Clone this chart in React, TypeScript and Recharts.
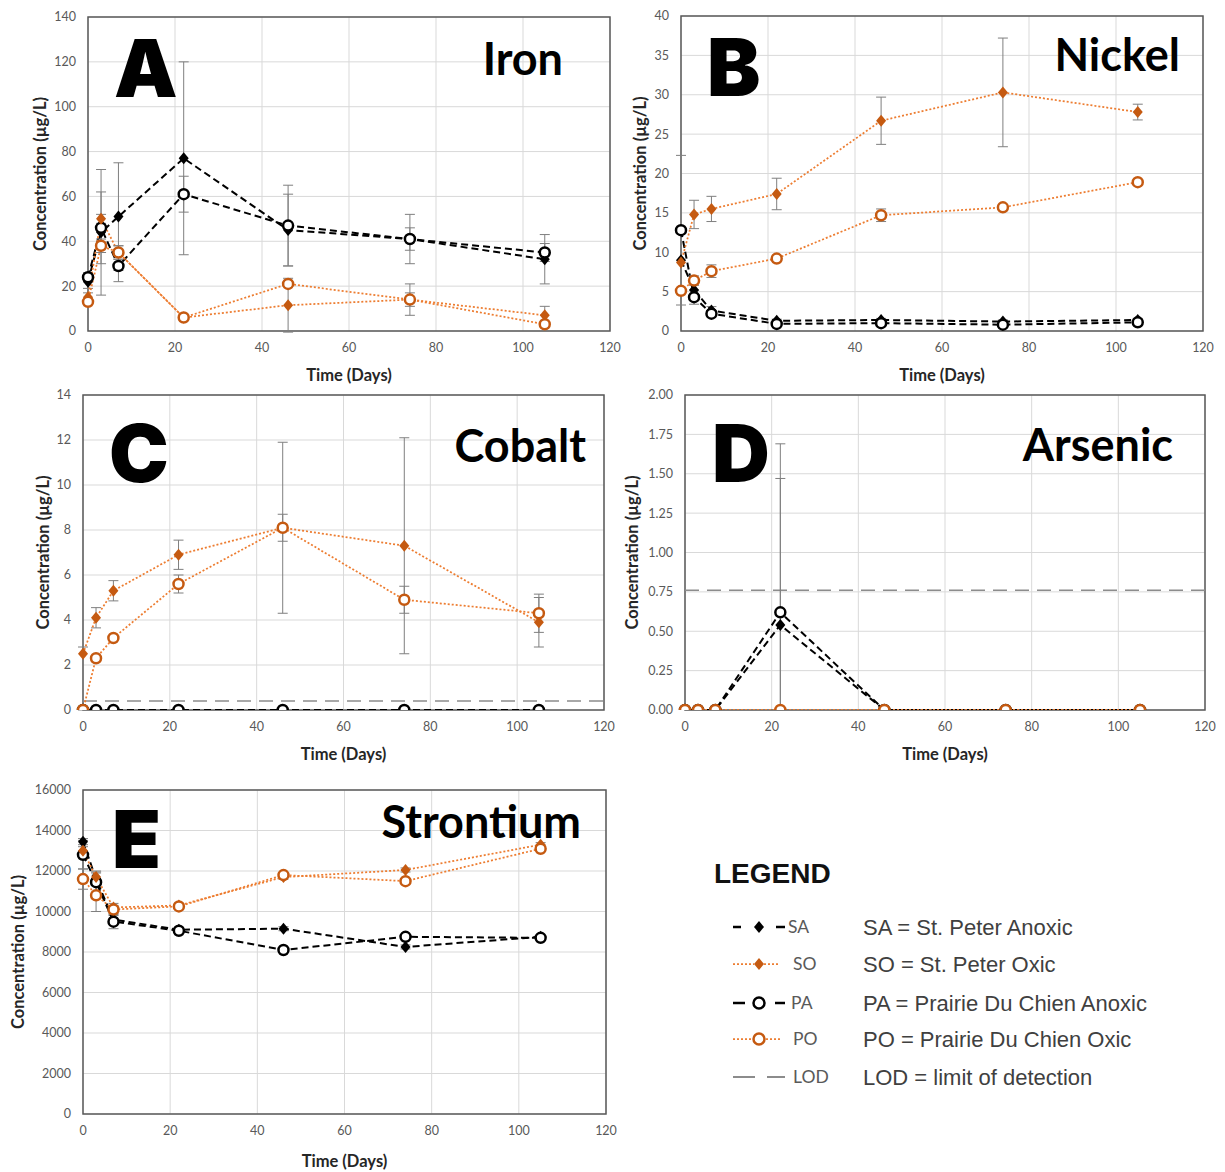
import React from "react";
import {
  LineChart,
  Line,
  XAxis,
  YAxis,
  CartesianGrid,
  ErrorBar,
  ReferenceLine,
  ReferenceArea,
} from "recharts";

// sampling days shared by every panel
const days = [0, 3, 7, 22, 46, 74, 105];
const dayTicks = [0, 20, 40, 60, 80, 100, 120];

type Err = number | [number, number] | null;

// Iron
const ironSA = [22, 44, 51, 77, 45, 41, 32];
const ironSO = [15, 50, 35, 6, 11.5, 14, 7];
const ironPA = [24, 46, 29, 61, 47, 41, 35];
const ironPO = [13, 38, 35, 6, 21, 14, 3];
const ironSAErr: Err[] = [3, 28, 24, 43, 16, 5, 11];
const ironSOErr: Err[] = [2, 2, 3, 1, 12, 7, 4];
const ironPAErr: Err[] = [2, 16, 7, 8, 18, 11, 4];
const ironPOErr: Err[] = [1, 3, 3, 1, 1, 3, 1];
const ironTicks = [0, 20, 40, 60, 80, 100, 120, 140];

// Nickel
const niSA = [9.0, 5.2, 2.6, 1.3, 1.4, 1.2, 1.4];
const niSO = [8.7, 14.8, 15.5, 17.4, 26.7, 30.3, 27.8];
const niPA = [12.8, 4.3, 2.2, 0.9, 1.0, 0.8, 1.1];
const niPO = [5.1, 6.4, 7.6, 9.2, 14.7, 15.7, 18.9];
const niSAErr: Err[] = [null, 0.8, 0.5, 0.2, 0.2, 0.2, 0.2];
const niSOErr: Err[] = [null, 1.8, 1.6, 2.0, 3.0, 6.9, 1.0];
const niPAErr: Err[] = [9.5, 0.9, 0.4, 0.1, 0.2, 0.1, 0.1];
const niPOErr: Err[] = [0.3, 0.6, 0.8, 0.3, 0.8, 0.3, 0.3];
const niTicks = [0, 5, 10, 15, 20, 25, 30, 35, 40];

// Cobalt
const coSA = [0, 0, 0, 0, 0, 0, 0];
const coSO = [2.5, 4.1, 5.3, 6.9, 8.1, 7.3, 3.9];
const coPA = [0, 0, 0, 0, 0, 0, 0];
const coPO = [0, 2.3, 3.2, 5.6, 8.1, 4.9, 4.3];
const coSAErr: Err[] = [null, null, null, null, null, null, null];
const coSOErr: Err[] = [[2.5, 0.3], 0.45, 0.45, 0.65, 0.6, 4.8, 1.1];
const coPAErr: Err[] = [null, null, null, null, null, null, null];
const coPOErr: Err[] = [null, 0.1, 0.1, 0.4, 3.8, 0.6, 0.85];
const coTicks = [0, 2, 4, 6, 8, 10, 12, 14];
const coLOD = 0.4;

// Arsenic
const asSA = [0, 0, 0, 0.54, 0, 0, 0];
const asSO = [0, 0, 0, 0, 0, 0, 0];
const asPA = [0, 0, 0, 0.62, 0, 0, 0];
const asPO = [0, 0, 0, 0, 0, 0, 0];
const asSAErr: Err[] = [null, null, null, [0.54, 0.93], null, null, null];
const asSOErr: Err[] = [null, null, null, null, null, null, null];
const asPAErr: Err[] = [null, null, null, [0.62, 1.07], null, null, null];
const asPOErr: Err[] = [null, null, null, null, null, null, null];
const asTicks = [0, 0.25, 0.5, 0.75, 1.0, 1.25, 1.5, 1.75, 2.0];
const asLOD = 0.76;

// Strontium
const srSA = [13450, 11600, 9600, 9100, 9150, 8250, 8750];
const srSO = [13000, 11700, 10200, 10300, 11700, 12050, 13300];
const srPA = [12800, 11450, 9500, 9050, 8100, 8750, 8700];
const srPO = [11600, 10800, 10100, 10250, 11800, 11500, 13100];
const srSAErr: Err[] = [150, 300, 200, 100, 100, 100, 100];
const srSOErr: Err[] = [200, 300, 200, 100, 100, 100, 100];
const srPAErr: Err[] = [700, 500, 350, 100, 100, 100, 100];
const srPOErr: Err[] = [500, 800, 200, 100, 100, 100, 100];
const srTicks = [0, 2000, 4000, 6000, 8000, 10000, 12000, 14000, 16000];

const legendRows = [
  { code: "SA", text: "SA = St. Peter Anoxic" },
  { code: "SO", text: "SO = St. Peter Oxic" },
  { code: "PA", text: "PA = Prairie Du Chien Anoxic" },
  { code: "PO", text: "PO = Prairie Du Chien Oxic" },
  { code: "LOD", text: "LOD = limit of detection" },
];

const BLACK = "#000000";
const ORANGE_LINE = "#ED7D31";
const ORANGE_MARK = "#C55A11";
const ERR_GREY = "#7f7f7f";
const LOD_GREY = "#8c8c8c";

function buildRows(
  sa: number[], so: number[], pa: number[], po: number[],
  saE: Err[], soE: Err[], paE: Err[], poE: Err[]
) {
  return days.map((t, i) => ({
    t,
    sa: sa[i], so: so[i], pa: pa[i], po: po[i],
    saE: saE[i], soE: soE[i], paE: paE[i], poE: poE[i],
  }));
}

const diamondDot = (color: string) => (p: any) => {
  const { cx, cy, index } = p;
  if (cx == null || cy == null) return <g key={`dm${index}`} />;
  return (
    <path
      key={`dm${index}`}
      d={`M${cx},${cy - 6}L${cx + 5},${cy}L${cx},${cy + 6}L${cx - 5},${cy}Z`}
      fill={color}
      stroke="none"
    />
  );
};

const ringDot = (color: string) => (p: any) => {
  const { cx, cy, index } = p;
  if (cx == null || cy == null) return <g key={`rg${index}`} />;
  return (
    <circle
      key={`rg${index}`}
      cx={cx}
      cy={cy}
      r={5}
      fill="#ffffff"
      stroke={color}
      strokeWidth={2.5}
    />
  );
};

const tickStyle = { fill: "#595959", fontSize: 12.5, fontFamily: "Lato" };
const titleStyle = { fill: "#262626", fontSize: 16.5, fontWeight: 700, fontFamily: "Lato" };

interface PanelProps {
  rows: ReturnType<typeof buildRows>;
  yMax: number;
  yTicks: number[];
  fmt?: (v: number) => string;
  box: { left: number; top: number; w: number; h: number };
  yTitleOffset: number;
  xTitleOffset: number;
  lod?: number;
}

const Panel = ({ rows, yMax, yTicks, fmt, box, yTitleOffset, xTitleOffset, lod }: PanelProps) => {
  return (
    <div style={{ position: "absolute", left: box.left - 80, top: box.top - 10 }}>
      <LineChart
        width={box.w + 100}
        height={box.h + 70}
        data={rows}
        margin={{ top: 10, right: 20, bottom: 0, left: 0 }}
      >
        <CartesianGrid stroke="#d9d9d9" strokeWidth={1} />
        <XAxis
          type="number"
          dataKey="t"
          domain={[0, 120]}
          ticks={dayTicks}
          interval={0}
          height={60}
          axisLine={false}
          tickLine={false}
          tickSize={0}
          tickMargin={12}
          tick={tickStyle}
          label={{
            value: "Time (Days)",
            position: "insideBottom",
            offset: xTitleOffset,
            style: titleStyle,
          }}
        />
        <YAxis
          type="number"
          domain={[0, yMax]}
          ticks={yTicks}
          interval={0}
          width={80}
          allowDataOverflow
          axisLine={false}
          tickLine={false}
          tickSize={0}
          tickMargin={12}
          tick={tickStyle}
          tickFormatter={fmt}
          label={{
            value: "Concentration (µg/L)",
            angle: -90,
            position: "insideLeft",
            offset: yTitleOffset,
            style: { ...titleStyle, textAnchor: "middle" },
          }}
        />
        <ReferenceArea
          x1={0}
          x2={120}
          y1={0}
          y2={yMax}
          fill="none"
          stroke="#595959"
          strokeWidth={1.5}
        />
        {lod != null && (
          <ReferenceLine y={lod} stroke={LOD_GREY} strokeWidth={1.5} strokeDasharray="14 8" />
        )}
        <Line
          dataKey="sa"
          stroke={BLACK}
          strokeWidth={2}
          strokeDasharray="7 4"
          dot={diamondDot(BLACK)}
          isAnimationActive={false}
        >
          <ErrorBar dataKey="saE" width={5} stroke={ERR_GREY} strokeWidth={1} />
        </Line>
        <Line
          dataKey="pa"
          stroke={BLACK}
          strokeWidth={2}
          strokeDasharray="7 4"
          dot={ringDot(BLACK)}
          isAnimationActive={false}
        >
          <ErrorBar dataKey="paE" width={5} stroke={ERR_GREY} strokeWidth={1} />
        </Line>
        <Line
          dataKey="so"
          stroke={ORANGE_LINE}
          strokeWidth={1.75}
          strokeDasharray="2 2"
          dot={diamondDot(ORANGE_MARK)}
          isAnimationActive={false}
        >
          <ErrorBar dataKey="soE" width={5} stroke={ERR_GREY} strokeWidth={1} />
        </Line>
        <Line
          dataKey="po"
          stroke={ORANGE_LINE}
          strokeWidth={1.75}
          strokeDasharray="2 2"
          dot={ringDot(ORANGE_MARK)}
          isAnimationActive={false}
        >
          <ErrorBar dataKey="poE" width={5} stroke={ERR_GREY} strokeWidth={1} />
        </Line>
      </LineChart>
    </div>
  );
};

const Legend = () => {
  const rowY = [87, 124, 163, 199, 237];
  return (
    <svg
      width={460}
      height={260}
      style={{ position: "absolute", left: 700, top: 840 }}
    >
      <text x={14} y={43} fontSize={28} fontWeight={700} fontFamily="Liberation Sans" fill="#111">
        LEGEND
      </text>
      {/* SA */}
      <line x1={33} x2={41} y1={rowY[0]} y2={rowY[0]} stroke={BLACK} strokeWidth={2.5} />
      <path d={`M59,${rowY[0] - 6}L64,${rowY[0]}L59,${rowY[0] + 6}L54,${rowY[0]}Z`} fill={BLACK} />
      <line x1={76} x2={85} y1={rowY[0]} y2={rowY[0]} stroke={BLACK} strokeWidth={2.5} />
      {/* SO */}
      <line x1={33} x2={54} y1={rowY[1]} y2={rowY[1]} stroke={ORANGE_LINE} strokeWidth={1.75} strokeDasharray="2 2" />
      <path d={`M59,${rowY[1] - 6}L64,${rowY[1]}L59,${rowY[1] + 6}L54,${rowY[1]}Z`} fill={ORANGE_MARK} />
      <line x1={64} x2={80} y1={rowY[1]} y2={rowY[1]} stroke={ORANGE_LINE} strokeWidth={1.75} strokeDasharray="2 2" />
      {/* PA */}
      <line x1={33} x2={45} y1={rowY[2]} y2={rowY[2]} stroke={BLACK} strokeWidth={2.5} />
      <circle cx={59} cy={rowY[2]} r={5.5} fill="#fff" stroke={BLACK} strokeWidth={2.5} />
      <line x1={75} x2={85} y1={rowY[2]} y2={rowY[2]} stroke={BLACK} strokeWidth={2.5} />
      {/* PO */}
      <line x1={33} x2={52} y1={rowY[3]} y2={rowY[3]} stroke={ORANGE_LINE} strokeWidth={1.75} strokeDasharray="2 2" />
      <circle cx={59} cy={rowY[3]} r={5.5} fill="#fff" stroke={ORANGE_MARK} strokeWidth={2.5} />
      <line x1={66} x2={80} y1={rowY[3]} y2={rowY[3]} stroke={ORANGE_LINE} strokeWidth={1.75} strokeDasharray="2 2" />
      {/* LOD */}
      <line x1={33} x2={55} y1={rowY[4]} y2={rowY[4]} stroke={LOD_GREY} strokeWidth={2} />
      <line x1={67} x2={85} y1={rowY[4]} y2={rowY[4]} stroke={LOD_GREY} strokeWidth={2} />
      {legendRows.map((r, i) => (
        <g key={r.code}>
          <text
            x={r.code === "SA" ? 88 : r.code === "PA" ? 91 : 93}
            y={rowY[i] + 6}
            fontSize={17.5}
            fontFamily="Lato"
            fill="#595959"
          >
            {r.code}
          </text>
          <text x={163} y={rowY[i] + 8} fontSize={22} fontFamily="Liberation Sans" fill="#404040">
            {r.text}
          </text>
        </g>
      ))}
    </svg>
  );
};

const Labels = () => {
  const letter = { fontSize: 80, fontWeight: 900, fontFamily: "Inter", fill: "#000" };
  const name = { fontSize: 45, fontWeight: 700, fontFamily: "Lato", fill: "#000" };
  return (
    <svg
      width={1225}
      height={1172}
      style={{ position: "absolute", left: 0, top: 0, pointerEvents: "none" }}
    >
      <text x={114} y={97} {...letter}>A</text>
      <text x={563} y={75} textAnchor="end" {...name}>Iron</text>
      <text x={707} y={96} {...letter}>B</text>
      <text x={1180} y={71} textAnchor="end" {...name}>Nickel</text>
      <text x={109} y={482} {...letter}>C</text>
      <text x={586} y={462} textAnchor="end" {...name}>Cobalt</text>
      <text x={712} y={482} {...letter}>D</text>
      <text x={1173} y={461} textAnchor="end" {...name}>Arsenic</text>
      <text x={112} y={868} {...letter}>E</text>
      <text x={581} y={838} textAnchor="end" {...name}>Strontium</text>
    </svg>
  );
};

export default function App() {
  return (
    <div
      style={{
        position: "absolute",
        left: 0,
        top: 0,
        width: 1225,
        height: 1172,
        background: "#ffffff",
        overflow: "hidden",
      }}
    >
      <Panel
        rows={buildRows(ironSA, ironSO, ironPA, ironPO, ironSAErr, ironSOErr, ironPAErr, ironPOErr)}
        yMax={140}
        yTicks={ironTicks}
        box={{ left: 88, top: 17, w: 522, h: 314 }}
        yTitleOffset={32}
        xTitleOffset={10}
      />
      <Panel
        rows={buildRows(niSA, niSO, niPA, niPO, niSAErr, niSOErr, niPAErr, niPOErr)}
        yMax={40}
        yTicks={niTicks}
        box={{ left: 681, top: 16, w: 522, h: 315 }}
        yTitleOffset={39}
        xTitleOffset={10}
      />
      <Panel
        rows={buildRows(coSA, coSO, coPA, coPO, coSAErr, coSOErr, coPAErr, coPOErr)}
        yMax={14}
        yTicks={coTicks}
        box={{ left: 83, top: 395, w: 521, h: 315 }}
        yTitleOffset={40}
        xTitleOffset={10}
        lod={coLOD}
      />
      <Panel
        rows={buildRows(asSA, asSO, asPA, asPO, asSAErr, asSOErr, asPAErr, asPOErr)}
        yMax={2}
        yTicks={asTicks}
        fmt={(v: number) => v.toFixed(2)}
        box={{ left: 685, top: 395, w: 520, h: 315 }}
        yTitleOffset={27}
        xTitleOffset={10}
        lod={asLOD}
      />
      <Panel
        rows={buildRows(srSA, srSO, srPA, srPO, srSAErr, srSOErr, srPAErr, srPOErr)}
        yMax={16000}
        yTicks={srTicks}
        box={{ left: 83, top: 790, w: 523, h: 324 }}
        yTitleOffset={15}
        xTitleOffset={7}
      />
      <Legend />
      <Labels />
    </div>
  );
}
